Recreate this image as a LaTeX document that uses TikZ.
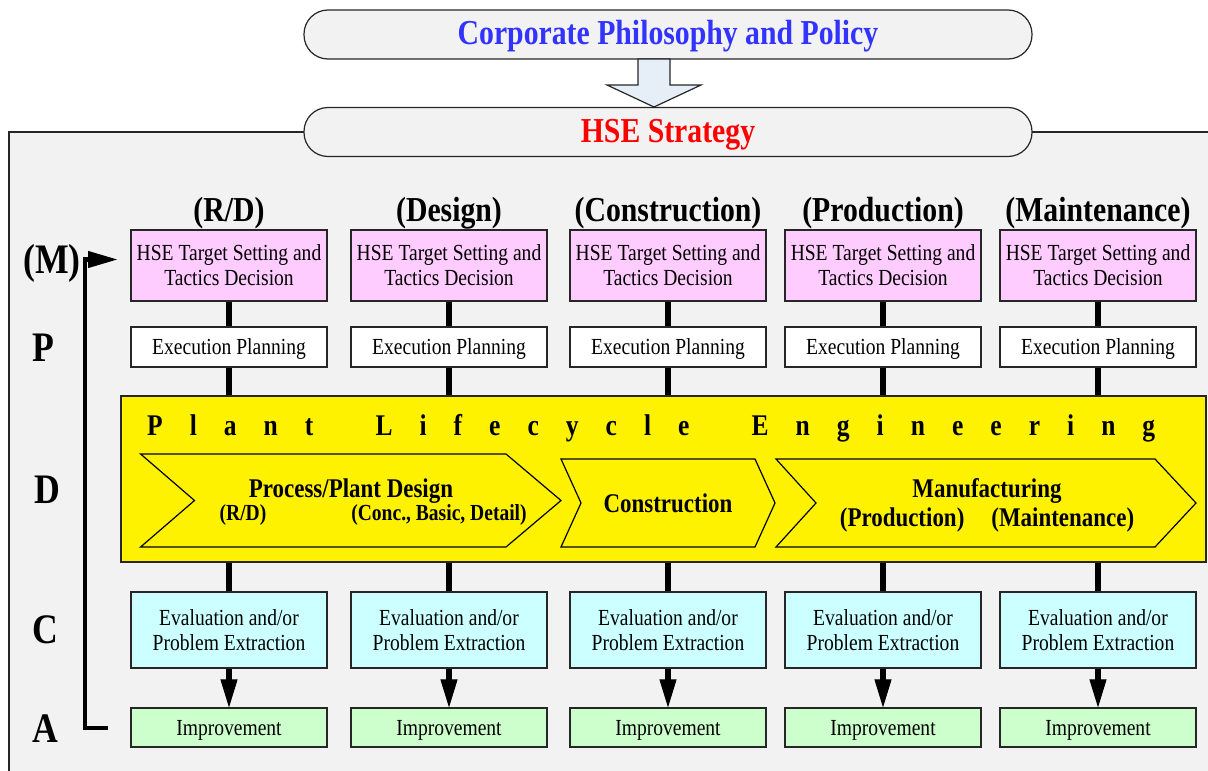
\documentclass[tikz,border=0pt]{standalone}
\usepackage{fontspec}
\setmainfont{Liberation Serif}[FakeStretch=0.85]
\usetikzlibrary{arrows.meta}
\definecolor{panelgray}{HTML}{F2F2F2}
\definecolor{arrowblue}{HTML}{E6EEF8}
\definecolor{targetpink}{HTML}{FFCCFF}
\definecolor{evalcyan}{HTML}{CCFFFF}
\definecolor{improvegreen}{HTML}{CCFFCC}
\definecolor{policyblue}{HTML}{3333FF}

\begin{document}
\begin{tikzpicture}[x=1pt, y=-1pt,
  every node/.style = {align=center, font=\fontsize{23}{25}\selectfont},
  pill/.style = {shape=rectangle, rounded corners=24pt, draw=black!85, line width=1.2pt,
    fill=panelgray, minimum width=728pt, minimum height=49pt, text height=24pt, text depth=4pt,
    font=\bfseries\fontsize{35}{35}\selectfont},
  box/.style = {shape=rectangle, draw=black!85, line width=1.2pt, minimum width=196pt, inner sep=0pt},
  target/.style = {box, fill=targetpink, minimum height=71pt},
  planbox/.style = {box, fill=white, minimum height=40pt, text depth=0pt},
  evalbox/.style = {box, fill=evalcyan, minimum height=76pt},
  improve/.style = {box, fill=improvegreen, minimum height=39pt, text depth=0pt},
  lifecycle/.style = {shape=rectangle, draw=black!85, line width=1.2pt, fill=yellow,
    minimum width=1085pt, minimum height=166pt, inner sep=0pt},
  stagehead/.style = {font=\bfseries\fontsize{35}{35}\selectfont},
  pdca/.style = {font=\bfseries\fontsize{42}{42}\selectfont},
  chevron/.style = {draw=black, line width=1.2pt, line join=miter},
  phase/.style = {anchor=base, inner sep=0pt, font=\bfseries\fontsize{27}{27}\selectfont},
  phasenote/.style = {anchor=base, inner sep=0pt, font=\bfseries\fontsize{23}{23}\selectfont},
  link/.style = {line width=5.5pt},
  linkarrow/.style = {link, -{Triangle[width=17pt, length=28pt, line width=1pt]}},
  feedback/.style = {line width=4.5pt, -{Triangle[width=17pt, length=29pt, line width=1pt]}}
  ]
  \useasboundingbox (0,0) rectangle (1208,771);
  \fill[panelgray] (9,132) rectangle (1208,771);
  \draw[line width=1.2pt, black!85] (9,771) -- (9,132) -- (1208,132);

  \node [pill, text=policyblue] (policy) at (668,34.5) {Corporate Philosophy and Policy};
  \draw[draw=black!85, line width=1.2pt, fill=arrowblue] (638,59) -- (670,59) -- (670,85) -- (701,85)
    -- (654,107) -- (607,85) -- (638,85) -- cycle;
  \node [pill, text=red] (strategy) at (668,132) {HSE Strategy};

  \node [pdca] (mletter) at (52,263) {(M)};
  \node [pdca] (pletter) at (43,348) {P};
  \node [pdca] (dletter) at (47,490) {D};
  \node [pdca] (cletter) at (45,630) {C};
  \node [pdca] (aletter) at (45,729) {A};

  \node [lifecycle] (plant) at (663.5,479) {};
  \node [anchor=base west, inner sep=0pt, font=\bfseries\fontsize{30}{30}\selectfont] (plantname) at (147,435)
    {\makebox[1008pt]{P\hfill l\hfill a\hfill n\hfill t\hfill\hspace{8pt}\hfill
      L\hfill i\hfill f\hfill e\hfill c\hfill y\hfill c\hfill l\hfill e\hfill\hspace{8pt}\hfill
      E\hfill n\hfill g\hfill i\hfill n\hfill e\hfill e\hfill r\hfill i\hfill n\hfill g}};

  \draw[chevron] (140.6,454) -- (506,454) -- (561,500.5) -- (506,547) -- (140.6,547) -- (194.5,500.5) -- cycle;
  \draw[chevron] (561,459) -- (755,459) -- (775,503) -- (755,547) -- (561,547) -- (581,503) -- cycle;
  \draw[chevron] (776,459) -- (1155,459) -- (1196,503) -- (1155,547) -- (776,547) -- (816,503) -- cycle;
  \node [phase] (design) at (351,497) {Process/Plant Design};
  \node [phasenote] (rdnote) at (243,520) {(R/D)};
  \node [phasenote] (designnote) at (439,520) {(Conc., Basic, Detail)};
  \node [phase] (construction) at (668,512) {Construction};
  \node [phase] (manufacturing) at (987,497) {Manufacturing};
  \node [phase] (manufacturingnote) at (987,526) {(Production)\quad(Maintenance)};

  \foreach \x/\stage [count=\i] in {229/{(R/D)}, 449/{(Design)}, 668/{(Construction)},
      883/{(Production)}, 1098/{(Maintenance)}} {
    \node [stagehead] (head\i) at (\x,213) {\stage};
    \node [target] (target\i) at (\x,265.5) {HSE Target Setting and\\Tactics Decision};
    \node [planbox] (plan\i) at (\x,347) {Execution Planning};
    \node [evalbox] (eval\i) at (\x,630) {Evaluation and/or\\Problem Extraction};
    \node [improve] (improve\i) at (\x,727.5) {Improvement};
    \draw[link] (target\i) -- (plan\i);
    \draw[link] (plan\i) -- (plan\i |- plant.north);
    \draw[link] (eval\i |- plant.south) -- (eval\i);
    \draw[linkarrow] (eval\i) -- (improve\i);
  }

  \coordinate (fbstart) at (108,728);
  \coordinate (fbend) at (117,259.5);
  \draw[feedback] (fbstart) -| ([xshift=-32pt]fbend) -- (fbend);
\end{tikzpicture}
\end{document}
